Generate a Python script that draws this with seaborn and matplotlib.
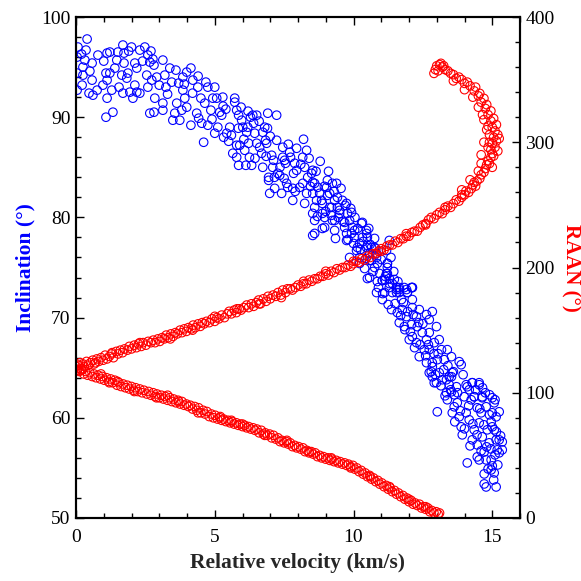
import matplotlib
matplotlib.use("Agg")
import matplotlib.pyplot as plt
import seaborn as sns
import numpy as np
import pandas as pd
from matplotlib.ticker import MultipleLocator

# ---------------- data ----------------
# Inclination (deg) vs relative velocity (km/s)
inc_v = [
    0.07, 0.04, 0.04, 0.04, 0.40, 0.36, 0.32, 0.25, 0.22, 0.25, 0.58, 0.58, 0.47, 0.61, 0.79, 0.76,
    1.08, 1.12, 1.22, 1.08, 1.12, 0.97, 1.22, 1.12, 1.33, 1.29, 1.51, 1.47, 1.69, 1.73, 1.73, 1.65,
    1.55, 1.69, 1.87, 1.83, 1.94, 2.05, 2.12, 2.19, 2.12, 2.19, 2.30, 2.30, 2.48, 2.59, 2.55, 2.59,
    2.66, 2.77, 2.81, 2.73, 2.66, 2.81, 2.84, 2.91, 3.13, 3.20, 3.24, 3.13, 3.13, 3.38, 3.45, 3.49,
    3.56, 3.60, 3.63, 3.74, 3.81, 3.85, 3.92, 3.85, 3.99, 3.99, 4.14, 4.21, 4.14, 4.35, 4.39, 4.42,
    4.60, 4.53, 4.64, 4.68, 4.75, 4.75, 4.86, 4.93, 5.00, 5.00, 5.07, 5.11, 5.18, 5.25, 5.29, 5.32,
    5.43, 5.54, 5.65, 5.72, 5.72, 5.79, 5.79, 5.86, 5.79, 5.90, 5.86, 5.97, 6.01, 6.08, 6.12, 6.15,
    6.19, 6.22, 6.33, 6.29, 6.37, 6.40, 6.44, 6.51, 6.51, 6.62, 6.69, 6.73, 6.73, 6.80, 6.83, 6.87,
    6.91, 6.94, 6.94, 6.98, 7.05, 7.09, 7.12, 7.16, 7.23, 7.23, 7.27, 7.34, 7.41, 7.45, 7.45, 7.52,
    7.55, 7.59, 7.63, 7.70, 7.73, 7.81, 7.81, 7.84, 7.88, 7.95, 7.95,
    8.06, 8.31, 8.35, 8.49, 8.53, 8.53, 8.60, 8.60, 8.71, 8.85, 8.88, 8.96, 9.03, 9.06, 9.14, 9.24,
    9.32, 9.32, 9.42, 9.50, 9.60, 9.68, 9.75, 9.78, 9.86, 9.93, 10.04, 10.14, 10.22, 10.29, 10.32,
    10.47, 10.50, 10.58, 10.65, 10.58, 10.76, 10.83, 10.86, 10.94, 11.04, 11.19, 11.22, 11.29, 11.29,
    11.40, 11.55, 11.65, 11.83, 11.94, 12.12,
    8.17, 8.24, 8.17, 8.31, 8.24, 8.53, 8.60, 8.67, 8.53, 8.60, 8.53, 8.78, 8.88, 8.96, 8.88, 9.06,
    9.14, 9.21, 9.24, 9.32, 9.39, 9.42, 9.50, 9.68, 9.75, 9.75, 9.93, 9.96, 10.04, 9.86, 10.11, 10.22,
    10.32, 10.47, 10.50, 10.47, 10.22, 10.40, 10.65, 10.76, 10.58, 10.76, 10.83, 10.50, 10.86, 11.12,
    11.29, 11.47, 11.22, 11.22, 10.83, 11.12, 11.55, 11.91, 12.12, 11.65,
    11.22, 11.19, 11.04, 11.29, 11.04, 11.40, 11.55, 11.65, 11.73, 11.37, 11.58, 11.76, 11.91, 11.94,
    12.09, 12.12, 12.12, 11.65, 11.83, 12.09, 12.27, 12.30, 12.37, 12.63, 12.73, 12.84, 12.99, 12.01,
    12.12, 12.27, 12.48, 12.63, 12.73, 12.37, 12.55, 12.73, 12.91, 13.09, 13.17, 13.38, 12.63, 12.84,
    13.02, 13.27, 13.53, 13.81, 13.88, 12.84, 13.09, 13.35, 13.53, 13.45, 13.71, 12.99, 13.35, 13.63,
    14.10, 14.28, 14.53, 13.99, 14.35, 14.64, 15.00,
    12.84, 12.73, 12.91, 13.02, 13.20, 13.45, 13.56, 13.38, 13.53, 13.56, 13.63, 13.81, 13.74, 13.88,
    13.92, 14.06, 14.17, 14.28, 14.53, 14.24, 14.35, 14.06, 14.17, 14.28, 14.46, 14.53, 14.60, 14.35,
    14.10, 14.46, 14.46, 14.64, 14.71, 14.78, 14.89, 14.82, 14.96, 15.07, 15.00, 14.78, 15.07, 15.14,
    15.25, 15.36, 15.18, 14.96, 15.00, 15.07, 14.71, 14.78, 15.14, 14.96, 14.53, 15.14, 14.64,
    15.36, 15.25, 14.71,
    5.40, 5.60, 5.85, 6.05, 6.25, 6.45, 6.60, 6.85, 7.00, 7.15, 7.35, 7.50, 7.65, 7.90, 6.20, 6.90,
    5.95, 5.50, 5.30, 4.90, 4.50, 4.20, 3.90, 3.30, 2.40, 1.90, 0.20, 0.50, 1.00, 1.40, 2.00, 2.70,
    3.00, 3.70, 4.40,
    8.10, 8.20, 8.40, 8.45, 8.65, 8.70, 8.80, 8.95, 9.00, 9.10, 9.20, 9.30, 9.35, 9.45, 9.55, 9.62,
    9.70, 9.80, 9.90, 10.00, 10.05, 10.15, 10.25, 10.35, 10.45, 10.55, 10.60, 10.70, 10.80, 10.90,
    11.00, 11.05, 11.15, 11.25, 11.35, 11.45, 11.50, 11.60, 11.70, 11.80, 11.85, 11.95, 12.05, 12.15,
    12.20, 12.35, 12.40, 12.50, 12.60, 12.70, 12.80, 12.90, 12.95, 13.05, 13.15, 13.25, 13.30, 13.40,
    13.50, 13.60, 13.65, 13.75, 13.85, 13.95, 14.00, 14.15, 14.20, 14.30, 14.40, 14.45, 14.55, 14.60,
    14.70, 14.75, 14.80, 14.85, 14.90, 14.95, 15.00, 15.05, 15.10, 15.15, 15.20, 15.30, 15.10, 14.65,
    14.90, 15.25,
]
inc_deg = [
    97.0, 96.0, 94.4, 92.7, 97.8, 96.7, 95.7, 95.0, 93.2, 94.2, 95.4, 93.7, 92.4, 92.2, 96.2, 92.7,
    90.0, 96.4, 96.5, 94.4, 93.7, 93.2, 94.4, 91.9, 90.5, 92.7, 96.5, 95.7, 97.2, 96.4, 95.4, 94.2,
    93.0, 92.4, 94.4, 93.9, 92.5, 91.9, 95.4, 94.9, 93.2, 92.5, 96.7, 92.4, 97.0, 96.2, 94.2, 93.0,
    95.5, 95.8, 95.2, 93.7, 90.4, 90.5, 91.9, 94.0, 95.7, 94.2, 93.0, 91.4, 90.7, 94.9, 93.5, 89.7,
    90.4, 94.7, 91.4, 89.7, 90.7, 92.7, 91.9, 94.0, 94.5, 91.0, 94.9, 93.7, 89.2, 90.4, 93.0, 89.9,
    87.5, 89.4, 91.4, 93.5, 93.0, 89.2, 90.7, 91.9, 93.0, 88.4, 91.9, 89.0, 90.5, 90.2, 92.0, 88.0,
    88.4, 89.0, 86.4, 91.9, 91.5, 90.7, 86.0, 90.2, 87.2, 87.2, 85.2, 89.7, 89.0, 86.7, 85.2, 88.5,
    89.0, 87.4, 85.2, 90.0, 90.2, 89.4, 88.4, 90.2, 87.4, 87.0, 86.4, 85.0, 88.5, 89.0, 87.7, 87.4,
    90.4, 84.0, 83.7, 82.4, 86.2, 85.0, 85.7, 82.9, 90.2, 87.7, 84.4, 84.2, 82.4, 87.0, 86.0, 85.7,
    85.4, 83.4, 83.0, 86.5, 86.0, 81.7, 82.9, 84.4, 85.4, 86.9, 84.7,
    83.0, 86.7, 84.0, 84.4, 83.5, 82.4, 81.0, 78.4, 83.0, 81.7, 80.4, 79.0, 83.0, 82.2, 81.0, 83.4,
    81.7, 79.7, 81.0, 80.4, 81.7, 79.0, 81.4, 80.4, 79.7, 78.4, 78.7, 77.0, 76.0, 79.4, 78.0,
    78.4, 77.2, 76.4, 75.7, 74.0, 77.0, 76.4, 75.4, 74.4, 73.7, 76.7, 75.4, 77.7, 73.0,
    73.4, 72.8, 72.5, 73.0, 72.5, 73.0,
    86.0, 85.0, 83.4, 82.4, 81.4, 84.7, 83.4, 81.7, 80.4, 79.7, 78.2, 82.4, 81.4, 80.0, 78.9, 83.7,
    82.4, 81.0, 79.7, 78.7, 83.4, 82.0, 80.7, 79.5, 78.4, 77.7, 80.5, 79.0, 78.0, 76.0, 76.7, 77.4,
    79.5, 78.7, 78.0, 77.0, 75.4, 74.9, 77.0, 77.9, 75.7, 75.0, 76.0, 73.9, 73.6, 73.8,
    73.9, 73.8, 75.0, 74.4, 72.5, 72.5, 72.5, 72.8, 73.0, 73.0,
    75.4, 74.4, 73.7, 73.4, 71.8, 72.5, 73.0, 72.8, 71.8, 70.8, 70.5, 70.8, 70.1, 72.5,
    73.0, 71.8, 71.0, 69.5, 69.1, 69.3, 70.1, 69.1, 70.8, 70.3, 69.8, 70.6, 69.1, 67.8,
    68.1, 67.5, 68.5, 67.8, 68.5, 66.1, 66.8, 66.8, 67.5, 67.8, 66.8, 66.8, 65.5, 65.1,
    65.8, 65.8, 66.1, 65.6, 65.3, 64.1, 64.5, 63.8, 64.1, 63.3, 63.1, 63.5, 62.5, 62.3,
    63.1, 63.5, 63.3, 62.1, 62.1, 62.0, 62.0,
    65.5, 64.5, 63.5, 60.6, 63.8, 64.1, 64.5, 61.8, 62.6, 60.5, 61.1, 60.1, 61.5, 59.1,
    58.3, 63.3, 62.8, 63.5, 63.5, 61.8, 62.1, 60.5, 59.8, 57.8, 61.0, 59.5, 60.5, 58.8,
    55.5, 57.3, 56.1, 58.1, 56.6, 55.8, 57.5, 58.8, 59.6, 61.5, 60.5, 61.1, 58.8, 57.8,
    57.8, 57.6, 56.8, 55.8, 55.2, 54.5, 54.4, 53.1, 53.1, 54.8, 55.8, 60.1, 62.1,
    56.8, 56.5, 53.4,
    90.8, 88.2, 88.9, 87.8, 86.0, 85.9, 89.6, 86.1, 88.1, 84.0, 85.0, 83.9, 87.3, 82.6, 90.6, 88.9,
    91.0, 87.6, 91.1, 89.8, 91.9, 92.4, 93.3, 92.3, 95.6, 96.6, 96.3, 94.6, 95.6, 94.9, 97.0, 96.6,
    93.2, 93.4, 94.1,
    85.3, 87.8, 85.9, 83.1, 84.6, 80.1, 85.6, 83.1, 80.6, 84.6, 80.2, 82.6, 77.9, 80.0, 82.9, 79.6,
    81.2, 77.8, 80.9, 77.4, 80.0, 78.9, 76.8, 77.6, 75.9, 78.9, 77.3, 74.6, 76.9, 73.0,
    75.8, 72.4, 74.1, 71.3, 76.0, 74.6, 71.4, 73.6, 70.2, 71.5, 68.8, 70.6, 68.6, 70.3,
    67.0, 69.5, 67.3, 69.4, 66.2, 67.3, 64.6, 66.4, 64.3, 66.4, 63.2, 64.8, 62.2, 65.2,
    62.8, 64.6, 59.6, 62.5, 60.7, 64.3, 58.9, 61.2, 57.2, 59.4, 62.8, 58.3, 60.9, 56.7,
    59.3, 62.5, 57.1, 54.9, 60.3, 56.9, 59.1, 53.8, 56.3, 58.6, 55.3, 58.2, 61.8, 63.0,
    62.3, 60.6,
]

# RAAN (deg) vs relative velocity, upper branch (incl. the turning arc)
raan_up_v = [
    0.00, 0.05, 0.10, 0.18, 0.25, 0.30, 0.38, 0.45, 0.52, 0.60, 0.66, 0.75, 0.82, 0.90, 0.98, 1.05,
    1.12, 1.20, 1.28, 1.35, 1.45, 1.52, 1.60, 1.68, 1.75, 1.85, 1.92, 2.00, 2.10, 2.18, 2.25, 2.35,
    2.42, 2.52, 2.60, 2.70, 2.78, 2.85, 2.95, 3.02, 3.10, 3.18, 3.25, 3.32, 3.42, 3.50, 3.58, 3.65,
    3.75, 3.82, 3.90, 3.98, 4.05, 4.15, 4.22, 4.30, 4.40, 4.48, 4.55, 4.62, 4.70, 4.80, 4.90, 5.00,
    5.08, 5.15, 5.25, 5.35, 5.45, 5.52, 5.60, 5.70, 5.78, 5.88, 5.95, 6.05, 6.15, 6.22, 6.32, 6.40,
    6.50, 6.58, 6.65, 6.75, 6.85, 6.92, 7.00, 7.10, 7.20, 7.28, 7.38, 7.45, 7.55, 7.62, 7.72, 7.80,
    7.90, 8.00, 8.10, 8.20, 8.30, 8.40, 8.50, 8.60, 8.70, 8.80, 8.90, 9.00, 9.10, 9.20, 9.30, 9.40,
    9.50, 9.60, 9.70, 9.80, 9.90, 10.00, 10.10, 10.20, 10.30, 10.40, 10.50, 10.60, 10.70, 10.80,
    10.90, 11.00, 11.10, 11.20, 11.30, 11.40, 11.50, 11.60, 11.70, 11.80, 11.90, 12.00, 12.10,
    12.20, 12.30, 12.40, 12.50, 12.60, 12.70, 12.80, 12.90, 13.00, 13.10, 13.20, 13.30, 13.40,
    13.50, 13.60, 13.70, 13.80, 13.90, 14.00, 14.05, 14.15, 14.25, 14.30, 14.40, 14.45, 14.55,
    14.60, 14.70, 14.75, 14.80, 14.85, 14.90, 14.95, 15.00, 15.05, 14.95, 15.10, 15.00, 15.15,
    15.05, 15.20, 15.10, 15.00, 15.15, 14.95, 15.05, 14.85, 14.95, 14.75, 14.80, 14.60, 14.70,
    14.50, 14.55, 14.35, 14.40, 14.20, 14.10, 14.00, 13.90, 13.80, 13.70, 13.60, 13.50, 13.40,
    13.30, 13.20, 13.10, 13.00, 12.95, 12.90, 13.05, 13.15, 13.25,
    14.60, 14.70, 14.80, 14.90, 14.70, 14.50, 15.20, 15.25, 14.85, 14.90, 14.30, 14.00, 13.60,
    15.00, 14.60, 14.50, 14.20, 13.90, 14.65, 14.85,
    0.15, 0.70, 1.30, 2.30, 3.40, 4.20, 5.00, 5.80, 6.60, 7.40, 8.20, 9.00, 10.00, 11.00, 11.90,
    12.60, 13.30, 13.90, 14.35,
]
raan_up_deg = [
    121, 118, 122, 119, 123, 121, 125, 122, 124, 126, 123, 127, 125, 128, 126, 130,
    127, 129, 131, 128, 133, 131, 134, 132, 135, 134, 137, 135, 138, 136, 139, 137,
    140, 138, 141, 140, 142, 140, 143, 141, 144, 143, 146, 144, 147, 145, 148, 147,
    150, 148, 151, 149, 152, 151, 154, 152, 155, 153, 156, 155, 157, 156, 159, 157,
    160, 159, 162, 160, 163, 165, 163, 166, 164, 167, 166, 168, 170, 168, 171, 169,
    172, 174, 171, 175, 173, 177, 175, 178, 177, 180, 178, 182, 180, 183, 183, 182,
    184, 186, 185, 187, 187, 190, 189, 191, 191, 193, 193, 195, 194, 197, 196, 199,
    198, 200, 200, 202, 201, 203, 205, 204, 207, 206, 209, 208, 211, 211,
    213, 215, 214, 217, 218, 218, 221, 220, 223, 223, 225, 225, 228,
    229, 229, 232, 234, 235, 238, 240, 239, 242, 244, 243, 246, 249,
    248, 251, 254, 253, 256, 258, 261, 260, 263, 266, 265, 269, 271,
    274, 276, 279, 282, 285, 283, 288, 291, 289, 294, 296, 299, 301,
    304, 306, 309, 312, 314, 317, 319, 322, 325, 327, 330, 332, 335,
    337, 339, 341, 344, 345, 348, 347, 350, 352, 351, 354, 355, 357,
    358, 360, 362, 361, 358, 355, 357, 363, 361,
    290, 300, 310, 300, 318, 328, 293, 303, 296, 306, 336, 342, 349,
    280, 283, 277, 270, 262, 322, 313,
    124, 124, 132, 140, 143, 150, 161, 167, 171, 176, 189, 197, 205, 213, 227,
    234, 248, 258, 268,
]

# RAAN (deg) vs relative velocity, lower branch
raan_lo_v = [
    0.00, 0.06, 0.12, 0.20, 0.28, 0.35, 0.42, 0.50, 0.58, 0.65, 0.72, 0.80, 0.88, 0.95, 1.02, 1.10,
    1.18, 1.25, 1.32, 1.40, 1.48, 1.55, 1.62, 1.70, 1.78, 1.85, 1.92, 2.00, 2.08, 2.15, 2.22, 2.30,
    2.38, 2.45, 2.55, 2.62, 2.70, 2.78, 2.85, 2.92, 3.00, 3.08, 3.15, 3.22, 3.30, 3.38, 3.45, 3.52,
    3.60, 3.68, 3.75, 3.82, 3.90, 3.98, 4.05, 4.12, 4.20, 4.28, 4.35, 4.42, 4.50, 4.58, 4.65, 4.72,
    4.80, 4.88, 4.95, 5.02, 5.10, 5.18, 5.25, 5.32, 5.40, 5.48, 5.55, 5.62, 5.70, 5.78, 5.85, 5.92,
    6.00, 6.08, 6.15, 6.22, 6.30, 6.38, 6.45, 6.52, 6.60, 6.68, 6.75, 6.82, 6.90, 6.98, 7.05, 7.12,
    7.20, 7.28, 7.35, 7.42, 7.50, 7.58, 7.65, 7.72, 7.80, 7.88, 7.95, 8.02, 8.10, 8.18, 8.25, 8.32,
    8.40, 8.48, 8.55, 8.62, 8.70, 8.78, 8.85, 8.92, 9.00, 9.08, 9.15, 9.22, 9.30, 9.38, 9.45, 9.52,
    9.60, 9.68, 9.75, 9.82, 9.90, 9.98, 10.05, 10.12, 10.20, 10.28, 10.35, 10.42, 10.50, 10.58,
    10.65, 10.72, 10.80, 10.88, 10.95, 11.02, 11.10, 11.18, 11.25, 11.32, 11.40, 11.48, 11.55,
    11.62, 11.70, 11.78, 11.85, 11.92, 12.00, 12.08, 12.15, 12.22, 12.30, 12.38, 12.45, 12.52,
    12.60, 12.68, 12.75, 12.82, 12.90, 12.98, 13.05, 13.10,
    0.25, 0.90, 1.50, 2.10, 2.90, 3.70, 4.40, 5.20, 6.00, 6.80, 7.60, 8.40, 9.20, 9.90, 10.60,
    11.30, 12.00, 12.60, 1.20, 3.30, 5.60,
]
raan_lo_deg = [
    119, 122, 117, 118, 115, 117, 114, 116, 113, 115, 112, 114, 111, 113, 110, 112,
    109, 111, 108, 110, 106, 108, 105, 107, 104, 106, 103, 105, 102, 104, 101, 103,
    100, 102, 99, 101, 98, 100, 97, 99, 96, 98, 95, 97, 94, 96, 93, 95,
    92, 94, 91, 93, 90, 91, 89, 90, 87, 89, 86, 88, 84, 86, 83, 85,
    81, 83, 80, 82, 79, 80, 78, 79, 77, 78, 76, 77, 75, 76, 74, 75,
    73, 74, 72, 73, 71, 72, 70, 71, 68, 70, 67, 68, 66, 67, 64, 66,
    63, 64, 61, 62, 60, 61, 59, 60, 57, 58, 56, 57, 55, 56, 53, 54,
    52, 53, 51, 52, 49, 50, 48, 49, 47, 48, 46, 47, 45, 46, 44, 45,
    43, 44, 42, 43, 41, 42, 39, 40, 37, 38, 35, 36, 33, 34,
    31, 32, 29, 30, 27, 28, 25, 26, 23, 24, 21, 22, 19,
    20, 17, 18, 15, 16, 13, 14, 11, 12, 10, 11, 8, 9,
    7, 8, 5, 6, 4, 5, 3, 4,
    119, 115, 109, 101, 96, 93, 84, 81, 75, 66, 62, 53, 48, 40, 33,
    25, 15, 9, 108, 98, 78,
]

# ---------------- figure ----------------
sns.set_style("ticks")
plt.rcParams["font.family"] = ["Liberation Serif", "DejaVu Serif"]

fig = plt.figure(figsize=(5.81, 5.81), dpi=100)
ax = fig.add_axes([76 / 581, 1 - 518 / 581, 444 / 581, 501 / 581])
ax2 = ax.twinx()

blue = "#0000ff"
red = "#ff0000"
mk = dict(marker="o", s=38, linewidth=0.8, legend=False)

df_inc = pd.DataFrame({"v": inc_v, "inc": inc_deg})
df_up = pd.DataFrame({"v": raan_up_v, "raan": raan_up_deg})
df_lo = pd.DataFrame({"v": raan_lo_v, "raan": raan_lo_deg})

sns.scatterplot(data=df_inc, x="v", y="inc", ax=ax, facecolors="none", edgecolor=blue, **mk)
sns.scatterplot(data=df_up, x="v", y="raan", ax=ax2, facecolors="none", edgecolor=red, **mk)
sns.scatterplot(data=df_lo, x="v", y="raan", ax=ax2, facecolors="none", edgecolor=red, **mk)

ax.set_xlim(0, 16)
ax.set_ylim(50, 100)
ax2.set_ylim(0, 400)

ax.xaxis.set_major_locator(MultipleLocator(5))
ax.xaxis.set_minor_locator(MultipleLocator(1))
ax.yaxis.set_major_locator(MultipleLocator(10))
ax.yaxis.set_minor_locator(MultipleLocator(2))
ax2.yaxis.set_major_locator(MultipleLocator(100))
ax2.yaxis.set_minor_locator(MultipleLocator(20))

for a in (ax, ax2):
    for sp in a.spines.values():
        sp.set_linewidth(1.5)
        sp.set_color("black")
    a.tick_params(which="both", direction="in", width=1.0, colors="black", labelsize=14)
    a.tick_params(which="major", length=6)
    a.tick_params(which="minor", length=3.5)

ax.tick_params(axis="x", which="both", top=True, bottom=True, pad=8)
ax.tick_params(axis="y", which="both", left=True, right=False, pad=4)
ax2.tick_params(axis="y", which="both", right=True, left=False, pad=4)

ax.set_xlabel("Relative velocity (km/s)", fontsize=15.5, fontweight="bold", labelpad=5)
ax.set_ylabel("Inclination (°)", fontsize=15.5, fontweight="bold", color=blue, labelpad=4)
ax2.set_ylabel("RAAN (°)", fontsize=15, fontweight="bold", color=red, rotation=270,
               labelpad=4, va="bottom")

fig.savefig("out.png", dpi=100)
